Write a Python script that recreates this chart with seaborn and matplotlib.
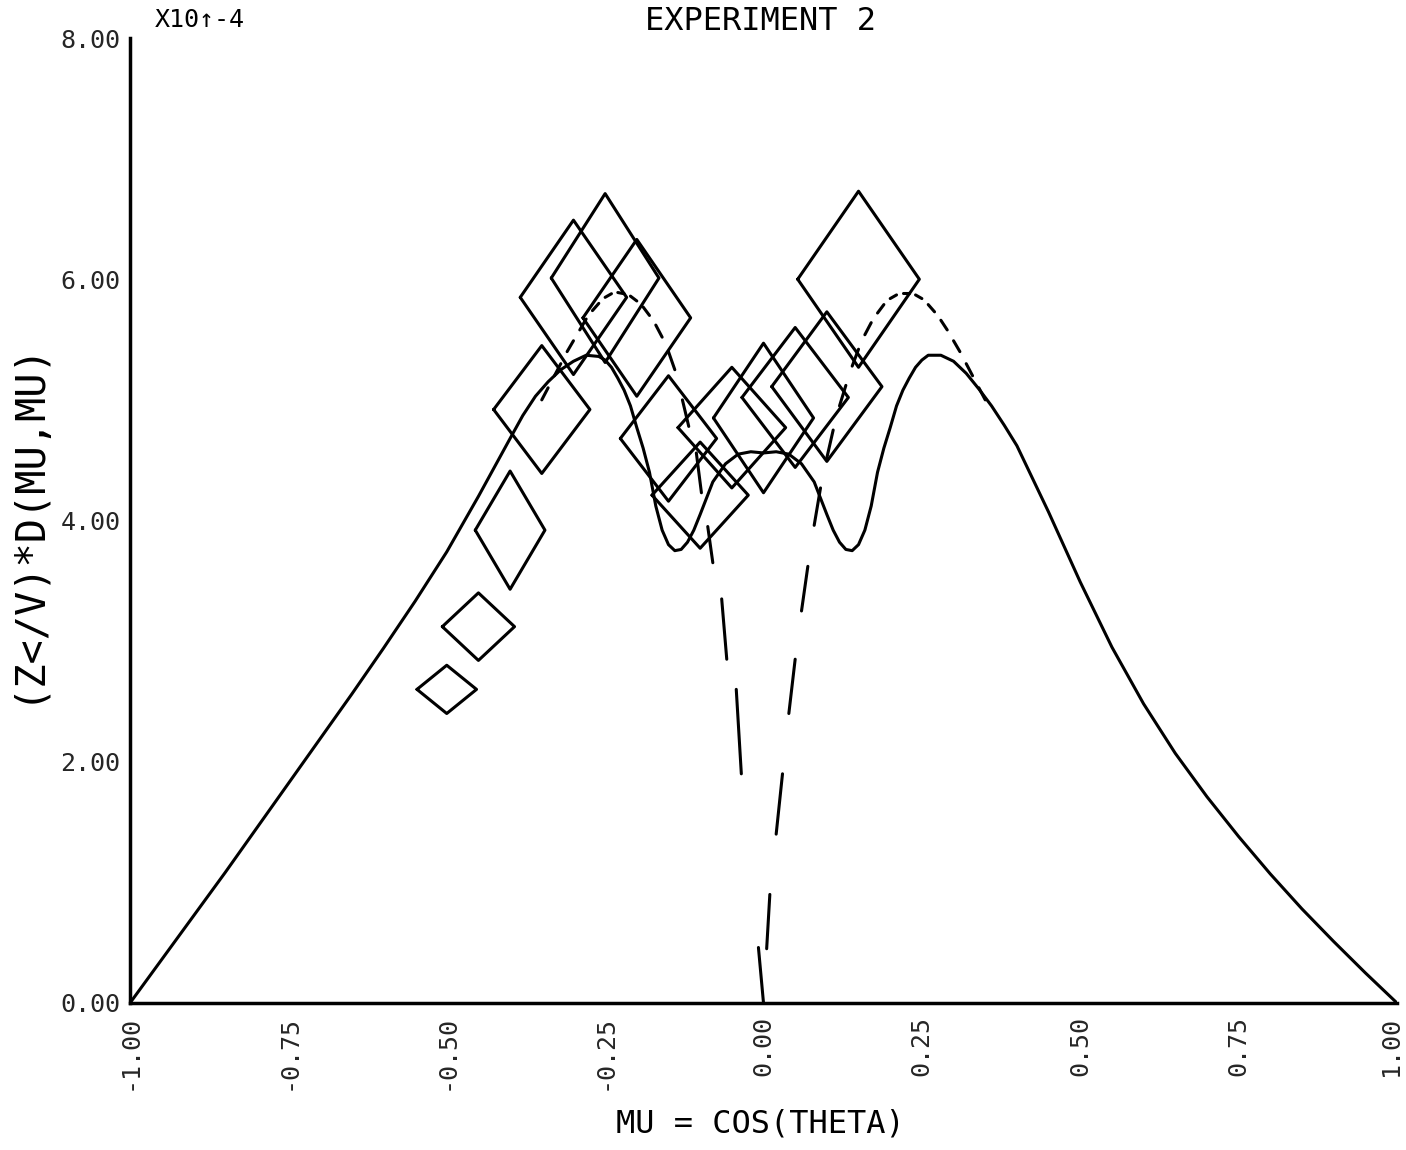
import numpy as np
import pandas as pd
import matplotlib
matplotlib.use("Agg")
import matplotlib.pyplot as plt
import matplotlib.transforms as mtransforms
import seaborn as sns

# ---- theory curve (solid), D(mu, mu) in units of 1e-4 ----
solid_mu = [-1.00, -0.95, -0.90, -0.85, -0.80, -0.75, -0.70, -0.65, -0.60, -0.55,
            -0.50, -0.45, -0.40, -0.38, -0.36, -0.34, -0.32, -0.30, -0.28, -0.26,
            -0.25, -0.24, -0.23, -0.22, -0.21, -0.20, -0.19, -0.18, -0.17, -0.16,
            -0.15, -0.14, -0.13, -0.12, -0.11, -0.10, -0.08, -0.06, -0.04, -0.02,
            0.00, 0.02, 0.04, 0.06, 0.08, 0.10, 0.11, 0.12, 0.13, 0.14,
            0.15, 0.16, 0.17, 0.18, 0.19, 0.20, 0.21, 0.22, 0.23, 0.24,
            0.25, 0.26, 0.28, 0.30, 0.32, 0.34, 0.36, 0.38, 0.40, 0.45,
            0.50, 0.55, 0.60, 0.65, 0.70, 0.75, 0.80, 0.85, 0.90, 0.95, 1.00]
solid_val = [0.00, 0.36, 0.72, 1.08, 1.45, 1.82, 2.19, 2.56, 2.94, 3.33,
             3.74, 4.20, 4.68, 4.87, 5.03, 5.15, 5.25, 5.32, 5.37, 5.36,
             5.33, 5.27, 5.18, 5.08, 4.95, 4.77, 4.60, 4.40, 4.12, 3.92,
             3.80, 3.75, 3.76, 3.82, 3.92, 4.05, 4.32, 4.47, 4.55, 4.57,
             4.56, 4.57, 4.55, 4.47, 4.32, 4.05, 3.92, 3.82, 3.76, 3.75,
             3.80, 3.92, 4.12, 4.40, 4.60, 4.77, 4.95, 5.08, 5.18, 5.27,
             5.33, 5.37, 5.37, 5.32, 5.22, 5.09, 4.95, 4.79, 4.62, 4.07,
             3.49, 2.95, 2.48, 2.07, 1.71, 1.38, 1.07, 0.78, 0.51, 0.25, 0.00]

# ---- dashed curves, listed dash end points (on, off, on, ...) ----
dash_right_mu = [0.005, 0.01, 0.02, 0.03, 0.04, 0.05, 0.06, 0.07, 0.08, 0.09,
                 0.10, 0.11, 0.12, 0.13, 0.14, 0.15, 0.16, 0.17, 0.18, 0.19,
                 0.20, 0.21, 0.22, 0.23, 0.24, 0.25, 0.26, 0.27, 0.28, 0.29,
                 0.30, 0.31, 0.32, 0.33, 0.34, 0.35]
dash_right_val = [0.45, 0.90, 1.40, 1.90, 2.40, 2.85, 3.25, 3.62, 3.96, 4.27,
                  4.52, 4.75, 4.95, 5.12, 5.28, 5.42, 5.54, 5.64, 5.72, 5.79,
                  5.84, 5.87, 5.89, 5.89, 5.87, 5.84, 5.79, 5.73, 5.66, 5.58,
                  5.49, 5.40, 5.30, 5.20, 5.10, 5.00]
dash_left_mu = [0.000, -0.008, -0.035, -0.043, -0.058, -0.066, -0.080, -0.088,
                -0.098, -0.106, -0.118, -0.128, -0.14, -0.15, -0.16, -0.17,
                -0.18, -0.19, -0.20, -0.21, -0.22, -0.23, -0.24, -0.25,
                -0.26, -0.27, -0.28, -0.29, -0.30, -0.31, -0.32, -0.33,
                -0.34, -0.35]
dash_left_val = [0.00, 0.46, 1.90, 2.60, 2.85, 3.35, 3.65, 3.95,
                 4.23, 4.56, 4.78, 5.00, 5.25, 5.40, 5.52, 5.62,
                 5.70, 5.77, 5.82, 5.86, 5.88, 5.89, 5.88, 5.85,
                 5.80, 5.74, 5.67, 5.58, 5.49, 5.40, 5.30, 5.20,
                 5.10, 5.00]

# ---- measured points: centre, half-width in mu, half-height in D ----
pt_mu = [-0.50, -0.45, -0.40, -0.35, -0.30, -0.25, -0.20, -0.15, -0.10, -0.05,
         0.00, 0.05, 0.10, 0.15]
pt_val = [2.60, 3.12, 3.92, 4.92, 5.85, 6.01, 5.68, 4.68, 4.21, 4.77,
          4.85, 5.02, 5.11, 6.00]
pt_dmu = [0.047, 0.057, 0.055, 0.076, 0.084, 0.085, 0.085, 0.076, 0.076, 0.085,
          0.079, 0.084, 0.087, 0.096]
pt_dval = [0.20, 0.28, 0.49, 0.53, 0.64, 0.70, 0.65, 0.52, 0.44, 0.50,
           0.62, 0.58, 0.62, 0.73]

x_ticks = [-1.00, -0.75, -0.50, -0.25, 0.00, 0.25, 0.50, 0.75, 1.00]
x_tick_labels = ["-1.00", "-0.75", "-0.50", "-0.25", "0.00", "0.25", "0.50", "0.75", "1.00"]
y_ticks = [0, 2, 4, 6, 8]
y_tick_labels = ["0.00", "2.00", "4.00", "6.00", "8.00"]

sns.set_theme(style="white")
plt.rcParams["font.family"] = ["DejaVu Sans Mono", "DejaVu Sans"]

fig = plt.figure(figsize=(14.06, 11.50), dpi=100)
ax = fig.add_axes([130 / 1406, 147 / 1150, 1267 / 1406, 965 / 1150])

ink = "#000000"
lw = 2.2

# solid curve
sns.lineplot(x=solid_mu, y=solid_val, sort=False, estimator=None,
             color=ink, lw=lw, ax=ax)


def dash_frame(mu, val):
    rows = []
    for i in range(0, len(mu) - 1, 2):
        rows.append((i, mu[i], val[i]))
        rows.append((i, mu[i + 1], val[i + 1]))
    return pd.DataFrame(rows, columns=["seg", "mu", "val"])


for mu_list, val_list in ((dash_right_mu, dash_right_val),
                          (dash_left_mu, dash_left_val)):
    df = dash_frame(mu_list, val_list)
    sns.lineplot(data=df, x="mu", y="val", units="seg", estimator=None,
                 sort=False, color=ink, lw=lw, ax=ax)

# diamonds for the measured points
rows = []
for k, (m, v, dm, dv) in enumerate(zip(pt_mu, pt_val, pt_dmu, pt_dval)):
    for (xx, yy) in ((m - dm, v), (m, v + dv), (m + dm, v), (m, v - dv), (m - dm, v)):
        rows.append((k, xx, yy))
diam = pd.DataFrame(rows, columns=["pt", "mu", "val"])
sns.lineplot(data=diam, x="mu", y="val", units="pt", estimator=None, sort=False,
             color=ink, lw=lw, ax=ax)

ax.set_xlim(-1, 1)
ax.set_ylim(0, 8)
ax.set_xticks(x_ticks)
ax.set_xticklabels(x_tick_labels, rotation=90, fontsize=18)
ax.set_yticks(y_ticks)
ax.set_yticklabels(y_tick_labels, fontsize=18)
ax.tick_params(axis="x", direction="inout", length=14, width=2, color=ink, pad=2)
ax.tick_params(axis="y", direction="out", length=7, width=2, color=ink, pad=0)

# keep the last x tick label inside the figure edge
last = ax.get_xticklabels()[-1]
last.set_transform(last.get_transform() +
                   mtransforms.ScaledTranslation(-6 / 100, 0, fig.dpi_scale_trans))

for side in ("top", "right"):
    ax.spines[side].set_visible(False)
for side in ("left", "bottom"):
    ax.spines[side].set_color(ink)
    ax.spines[side].set_linewidth(2.5)
ax.grid(False)
ax.set_xlabel("")
ax.set_ylabel("")

fig.text(645 / 1406, 1 - 22 / 1150, "EXPERIMENT 2", fontsize=23, ha="left", va="center", color=ink)
fig.text(760 / 1406, 1 - 1124 / 1150, "MU = COS(THETA)", fontsize=23, ha="center", va="center", color=ink)
fig.text(27 / 1406, 1 - 521 / 1150, "(Z</V)*D(MU,MU)", fontsize=29, rotation=90,
         ha="center", va="center", color=ink)
fig.text(155 / 1406, 1 - 20 / 1150, "X10↑-4", fontsize=18, ha="left", va="center", color=ink)

fig.savefig("out.png", dpi=100, facecolor="white")
